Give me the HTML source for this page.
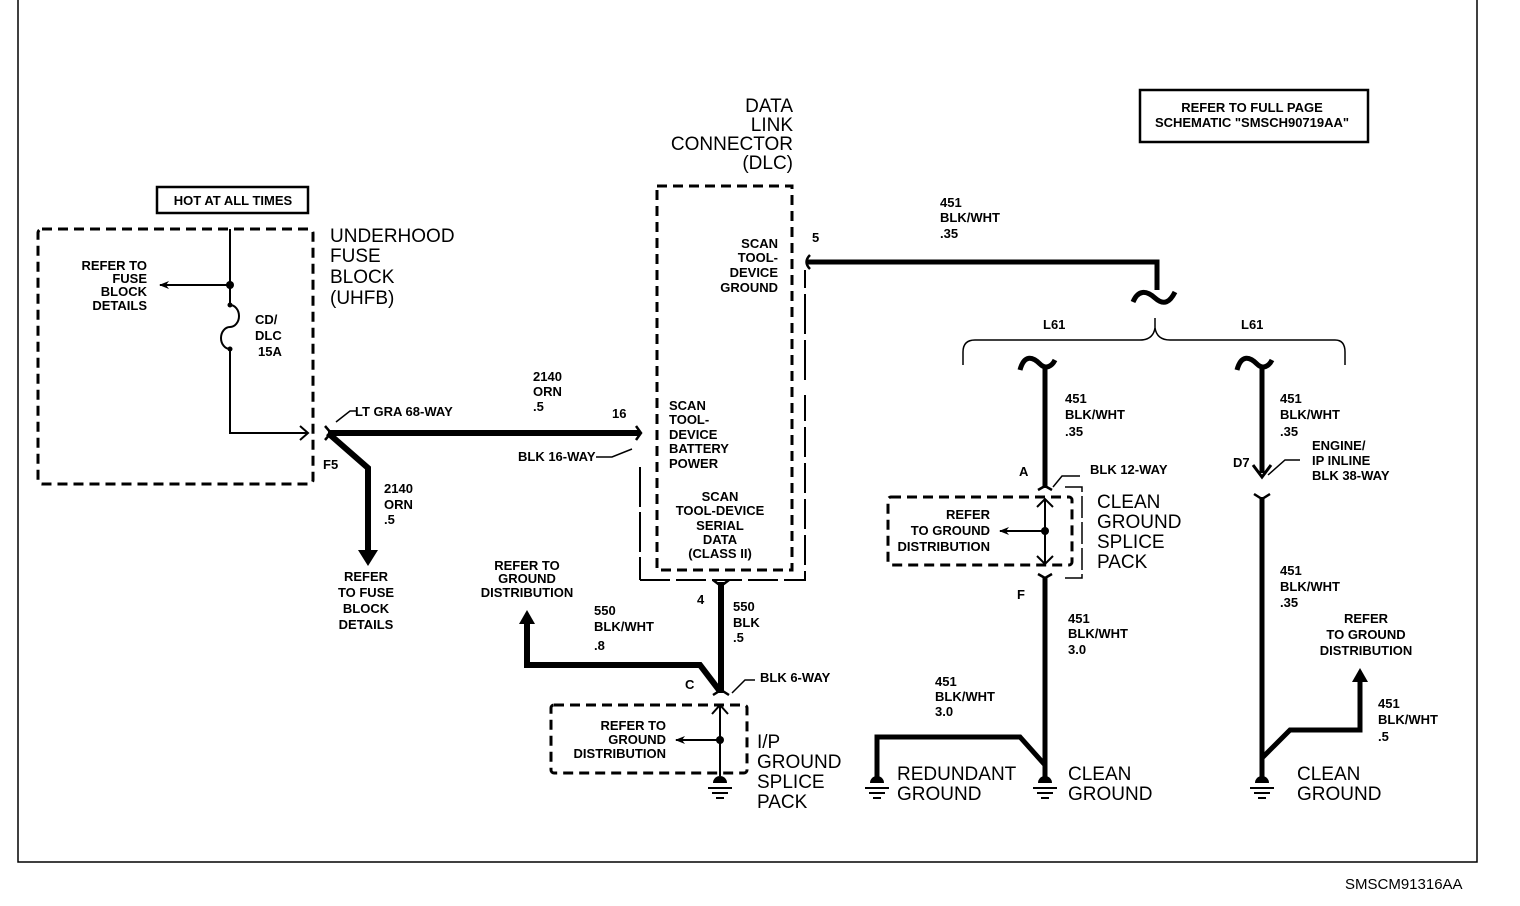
<!DOCTYPE html>
<html><head><meta charset="utf-8"><style>
body{margin:0;background:#fff}
svg{display:block}
text{font-family:"Liberation Sans",sans-serif;fill:#000}
.s{font-size:13px;font-weight:bold}
.b{font-size:19px}
</style></head><body>
<svg width="1520" height="906" viewBox="0 0 1520 906" xmlns="http://www.w3.org/2000/svg">
<defs>
<marker id="ah" markerWidth="10" markerHeight="10" refX="9" refY="5" orient="auto" markerUnits="userSpaceOnUse"><path d="M0,1 L10,5 L0,9 L3,5z" fill="#000"/></marker>
</defs>
<g fill="none" stroke="#000">
<path d="M18,0 V862 H1477 V0" stroke-width="1.5"/>
<rect x="1140" y="90" width="228" height="52" stroke-width="2.5"/>
<rect x="157" y="187" width="151" height="26" stroke-width="2.5"/>
<rect x="38" y="229" width="275" height="255" rx="4" stroke-width="3" stroke-dasharray="10,6"/>
<path d="M230,229 V305" stroke-width="2"/>
<path d="M230,285 H160" stroke-width="2" marker-end="url(#ah)"/>
<path d="M230,305 a9,11 0 0 1 0,22 a9,11 0 0 0 0,22" stroke-width="2"/>
<path d="M230,349 V433 H308" stroke-width="2"/>
<path d="M300,426 L308,433 L300,440" stroke-width="2"/>
<path d="M328,433 H640" stroke-width="6"/>
<path d="M328,433 L368,468 V552" stroke-width="6"/>
<path d="M358,550 L368,566 L378,550z" fill="#000" stroke="none"/>
<path d="M336,422 L350,411 H357" stroke-width="1.5"/>
<path d="M325,426 L331,433 L325,440" stroke-width="2.5"/>
<path d="M636,426 L641,433 L636,440" stroke-width="2.5"/>
<path d="M596,457 H612 L632,449" stroke-width="1.5"/>
<rect x="657" y="186" width="135" height="384" stroke-width="3" stroke-dasharray="10,6"/>
<path d="M640,467 V580" stroke-width="2" stroke-dasharray="40,5"/>
<path d="M640,580 H805 V395" stroke-width="2" stroke-dasharray="30,6"/>
<path d="M805,380 V270" stroke-width="2" stroke-dasharray="40,6"/>
<path d="M807,262 H1157 V290" stroke-width="5"/>
<path d="M810,255 Q803,262 810,269" stroke-width="2.5"/>
<path d="M1133,302 C1138,290 1146,290 1155,298 C1164,306 1170,302 1175,292" stroke-width="5"/>
<path d="M1155,318 V328 Q1153,340 1140,340 H975 Q963,340 963,352 V365" stroke-width="1.5"/>
<path d="M1155,328 Q1157,340 1170,340 H1335 Q1345,340 1345,352 V365" stroke-width="1.5"/>
<path d="M721,582 V693" stroke-width="6"/>
<path d="M713,580 L721,586 L729,580" stroke-width="2.5"/>
<path d="M719,690 L700,665 H527 V622" stroke-width="6"/>
<path d="M519,624 L527,610 L535,624z" fill="#000" stroke="none"/>
<path d="M732,693 L745,680 H755" stroke-width="1.5"/>
<path d="M713,695 L721,690 L729,695" stroke-width="2.5"/>
<rect x="551" y="705" width="196" height="68" rx="3" stroke-width="3" stroke-dasharray="10,6"/>
<path d="M720,705 V776" stroke-width="2"/>
<path d="M712,714 L720,705 L728,714" stroke-width="2"/>
<path d="M720,740 H676" stroke-width="2" marker-end="url(#ah)"/>
<path d="M1020,370 C1024,355 1032,356 1040,364 C1046,370 1052,366 1055,360" stroke-width="5"/>
<path d="M1045,365 V488" stroke-width="5"/>
<path d="M1038,490 L1045,486 L1052,490" stroke-width="2.5"/>
<path d="M1053,487 L1062,476 H1080" stroke-width="1.5"/>
<rect x="888" y="497" width="184" height="68" rx="3" stroke-width="3" stroke-dasharray="10,6"/>
<path d="M1065,487 H1082 V578 H1065" stroke-width="1.5" stroke-dasharray="22,4"/>
<path d="M1045,499 V564" stroke-width="2"/>
<path d="M1037,507 L1045,499 L1053,507 M1037,556 L1045,564 L1053,556" stroke-width="2"/>
<path d="M1045,531 H1000" stroke-width="2" marker-end="url(#ah)"/>
<path d="M1038,574 L1045,578 L1052,574" stroke-width="2.5"/>
<path d="M1045,578 V778" stroke-width="5"/>
<path d="M1045,765 L1020,737 H877 V778" stroke-width="5"/>
<path d="M1237,370 C1241,355 1249,356 1257,364 C1263,370 1269,366 1272,360" stroke-width="5"/>
<path d="M1262,365 V473" stroke-width="5"/>
<path d="M1253,465 L1262,477 L1271,465" stroke-width="3"/>
<path d="M1268,475 L1285,460 H1300" stroke-width="1.5"/>
<path d="M1254,494 L1262,499 L1270,494" stroke-width="2.5"/>
<path d="M1262,497 V778" stroke-width="5"/>
<path d="M1262,758 L1290,730 H1360 V680" stroke-width="5"/>
<path d="M1352,682 L1360,668 L1368,682z" fill="#000" stroke="none"/>
<g stroke-width="2">
<path d="M708,788 H732 M712,793 H728 M716,798 H724"/>
<path d="M865,788 H889 M869,793 H885 M873,798 H881"/>
<path d="M1033,788 H1057 M1037,793 H1053 M1041,798 H1049"/>
<path d="M1250,788 H1274 M1254,793 H1270 M1258,798 H1266"/>
</g>
</g>
<g fill="#000">
<circle cx="230" cy="285" r="4"/><circle cx="230" cy="305" r="2.5"/><circle cx="230" cy="349" r="2.5"/>
<circle cx="720" cy="740" r="4"/><circle cx="1045" cy="531" r="4"/>
<path d="M713,783 a7,7 0 0 1 14,0z"/><path d="M870,783 a7,7 0 0 1 14,0z"/>
<path d="M1038,783 a7,7 0 0 1 14,0z"/><path d="M1255,783 a7,7 0 0 1 14,0z"/>
</g>
<g class="s">
<text x="1252" y="112" text-anchor="middle">REFER TO FULL PAGE</text>
<text x="1252" y="127" text-anchor="middle">SCHEMATIC "SMSCH90719AA"</text>
<text x="233" y="205" text-anchor="middle">HOT AT ALL TIMES</text>
<g text-anchor="end"><text x="147" y="270">REFER TO</text><text x="147" y="283">FUSE</text><text x="147" y="296">BLOCK</text><text x="147" y="310">DETAILS</text></g>
<text x="255" y="324">CD/</text><text x="255" y="340">DLC</text><text x="258" y="356">15A</text>
<text x="355" y="416">LT GRA 68-WAY</text>
<text x="323" y="469">F5</text>
<text x="384" y="493">2140</text><text x="384" y="509">ORN</text><text x="384" y="524">.5</text>
<text x="533" y="381">2140</text><text x="533" y="396">ORN</text><text x="533" y="411">.5</text>
<text x="612" y="418">16</text>
<text x="518" y="461">BLK 16-WAY</text>
<g text-anchor="middle"><text x="366" y="581">REFER</text><text x="366" y="597">TO FUSE</text><text x="366" y="613">BLOCK</text><text x="366" y="629">DETAILS</text></g>
<g text-anchor="end"><text x="778" y="248">SCAN</text><text x="778" y="262">TOOL-</text><text x="778" y="277">DEVICE</text><text x="778" y="292">GROUND</text></g>
<text x="812" y="242">5</text>
<text x="940" y="207">451</text><text x="940" y="222">BLK/WHT</text><text x="940" y="238">.35</text>
<text x="669" y="410">SCAN</text><text x="669" y="424">TOOL-</text><text x="669" y="439">DEVICE</text><text x="669" y="453">BATTERY</text><text x="669" y="468">POWER</text>
<g text-anchor="middle"><text x="720" y="501">SCAN</text><text x="720" y="515">TOOL-DEVICE</text><text x="720" y="530">SERIAL</text><text x="720" y="544">DATA</text><text x="720" y="558">(CLASS II)</text></g>
<g text-anchor="middle"><text x="527" y="570">REFER TO</text><text x="527" y="583">GROUND</text><text x="527" y="597">DISTRIBUTION</text></g>
<text x="697" y="604">4</text>
<text x="733" y="611">550</text><text x="733" y="627">BLK</text><text x="733" y="642">.5</text>
<text x="594" y="615">550</text><text x="594" y="631">BLK/WHT</text><text x="594" y="650">.8</text>
<text x="685" y="689">C</text>
<text x="760" y="682">BLK 6-WAY</text>
<g text-anchor="end"><text x="666" y="730">REFER TO</text><text x="666" y="744">GROUND</text><text x="666" y="758">DISTRIBUTION</text></g>
<text x="1043" y="329">L61</text><text x="1241" y="329">L61</text>
<text x="1065" y="403">451</text><text x="1065" y="419">BLK/WHT</text><text x="1065" y="436">.35</text>
<text x="1019" y="476">A</text>
<text x="1090" y="474">BLK 12-WAY</text>
<g text-anchor="end"><text x="990" y="519">REFER</text><text x="990" y="535">TO GROUND</text><text x="990" y="551">DISTRIBUTION</text></g>
<text x="1017" y="599">F</text>
<text x="1068" y="623">451</text><text x="1068" y="638">BLK/WHT</text><text x="1068" y="654">3.0</text>
<text x="935" y="686">451</text><text x="935" y="701">BLK/WHT</text><text x="935" y="716">3.0</text>
<text x="1280" y="403">451</text><text x="1280" y="419">BLK/WHT</text><text x="1280" y="436">.35</text>
<text x="1312" y="450">ENGINE/</text><text x="1312" y="465">IP INLINE</text><text x="1312" y="480">BLK 38-WAY</text>
<text x="1233" y="467">D7</text>
<text x="1280" y="575">451</text><text x="1280" y="591">BLK/WHT</text><text x="1280" y="607">.35</text>
<g text-anchor="middle"><text x="1366" y="623">REFER</text><text x="1366" y="639">TO GROUND</text><text x="1366" y="655">DISTRIBUTION</text></g>
<text x="1378" y="708">451</text><text x="1378" y="724">BLK/WHT</text><text x="1378" y="741">.5</text>
</g>
<text x="1345" y="889" style="font-size:15px">SMSCM91316AA</text>
<g class="b">
<text x="330" y="242">UNDERHOOD</text><text x="330" y="262">FUSE</text><text x="330" y="283">BLOCK</text><text x="330" y="304">(UHFB)</text>
<g text-anchor="end"><text x="793" y="112">DATA</text><text x="793" y="131">LINK</text><text x="793" y="150">CONNECTOR</text><text x="793" y="169">(DLC)</text></g>
<text x="757" y="748">I/P</text><text x="757" y="768">GROUND</text><text x="757" y="788">SPLICE</text><text x="757" y="808">PACK</text>
<text x="1097" y="508">CLEAN</text><text x="1097" y="528">GROUND</text><text x="1097" y="548">SPLICE</text><text x="1097" y="568">PACK</text>
<text x="897" y="780">REDUNDANT</text><text x="897" y="800">GROUND</text>
<text x="1068" y="780">CLEAN</text><text x="1068" y="800">GROUND</text>
<text x="1297" y="780">CLEAN</text><text x="1297" y="800">GROUND</text>
</g>
</svg>
</body></html>
